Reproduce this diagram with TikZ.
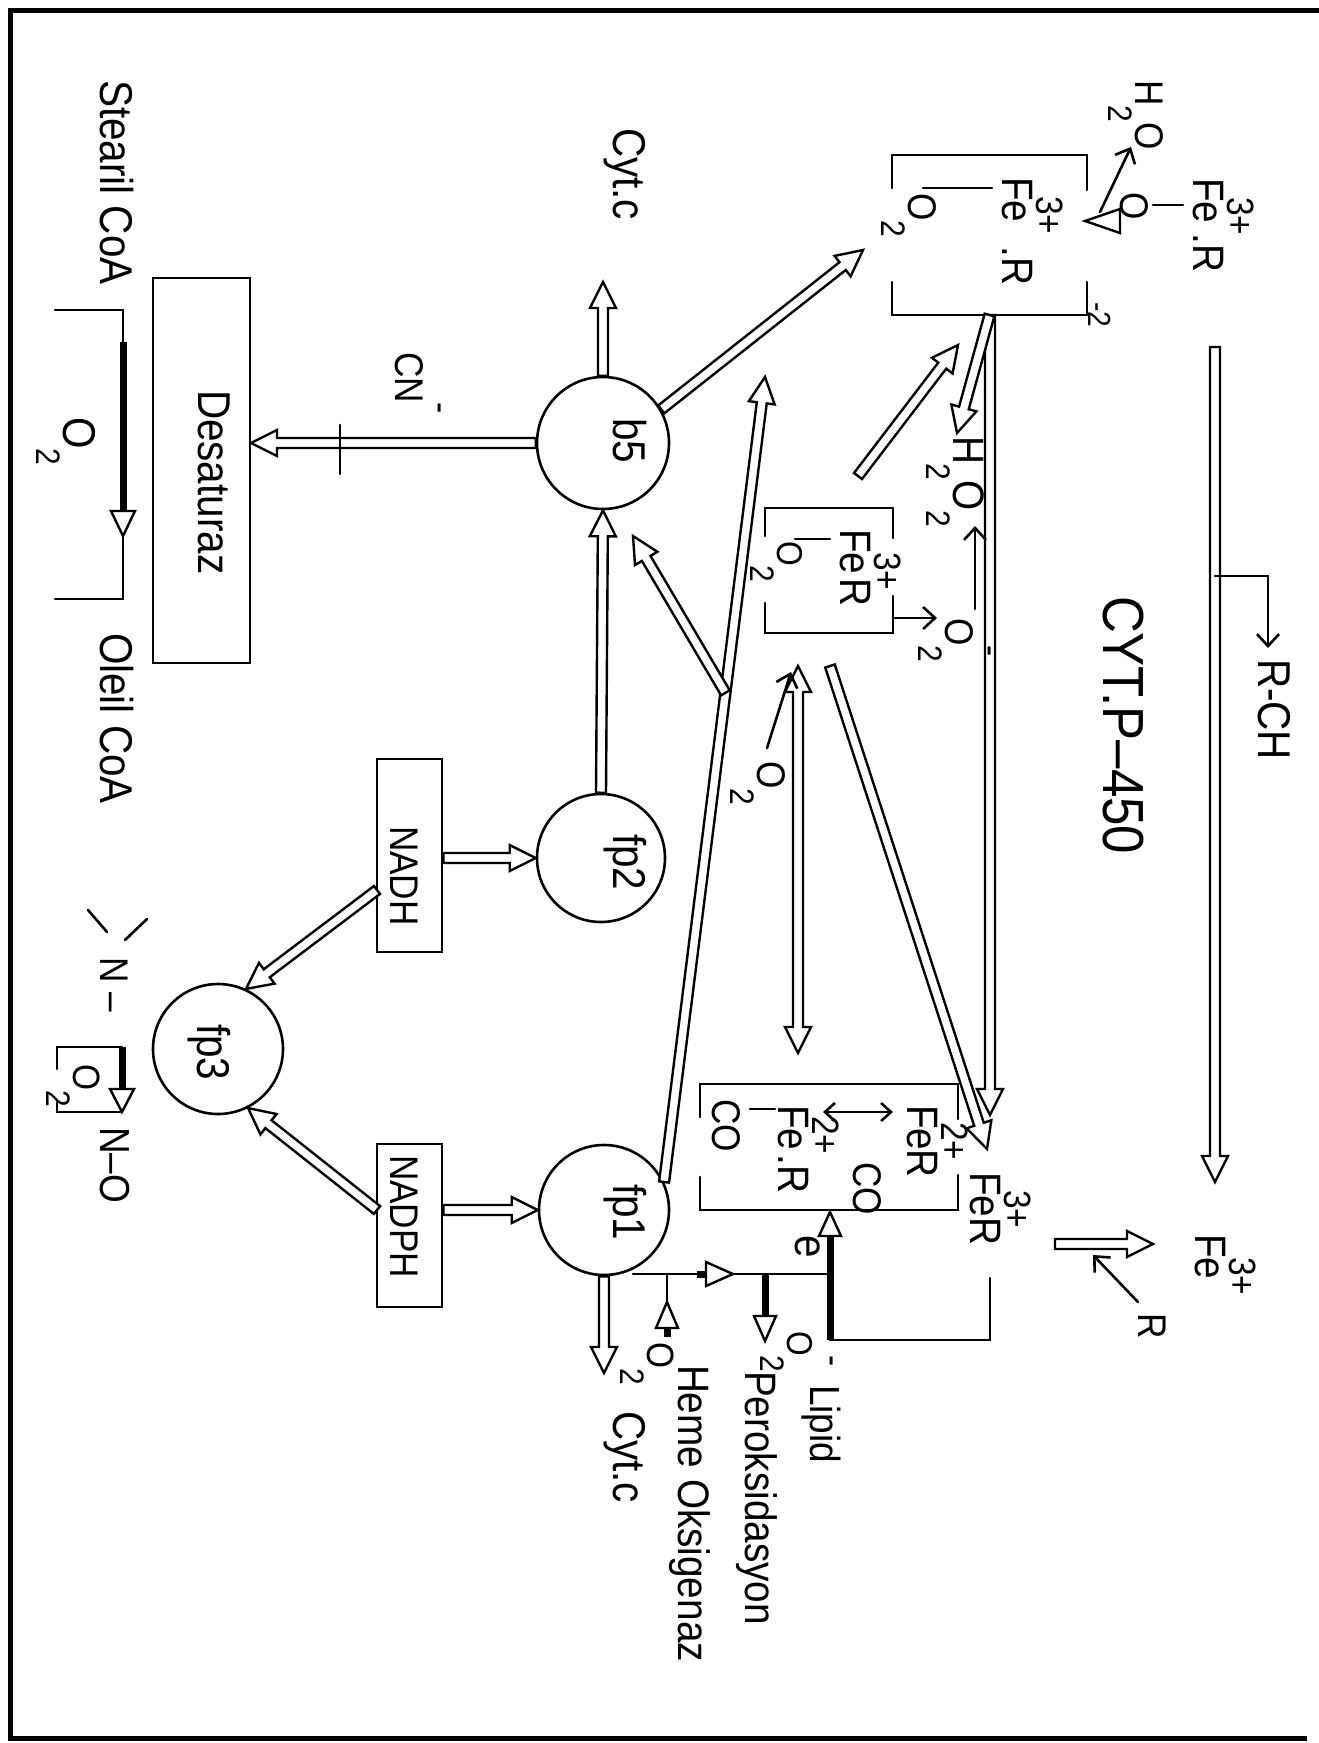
\documentclass[tikz,border=0pt]{standalone}
\usepackage{fontspec}
\setmainfont{Liberation Sans}[FakeStretch=0.88]
\usetikzlibrary{calc,arrows.meta}
\newcommand\fsz[1]{\fontsize{#1}{#1}\selectfont}
\newcommand\upx[1]{\raisebox{34pt}{\fsz{38}#1}}
\newcommand\dnx[1]{\raisebox{-27pt}{\fsz{34}#1}}
\newcommand\harrow[2]{%
  \path ($(#2)!26pt!(#1)$) coordinate (hc);
  \draw[harr] ($(#1)!5pt!90:(#2)$) -- ($(hc)!5pt!90:(#2)$) -- ($(hc)!13pt!90:(#2)$) -- (#2) -- ($(hc)!13pt!-90:(#2)$) -- ($(hc)!5pt!-90:(#2)$) -- ($(#1)!5pt!-90:(#2)$) -- cycle;}
\newcommand\hdarrow[2]{%
  \path ($(#2)!26pt!(#1)$) coordinate (hc) ($(#1)!26pt!(#2)$) coordinate (hd);
  \draw[harr] (#1) -- ($(hd)!13pt!90:(#2)$) -- ($(hd)!5pt!90:(#2)$) -- ($(hc)!5pt!90:(#2)$) -- ($(hc)!13pt!90:(#2)$) -- (#2) -- ($(hc)!13pt!-90:(#2)$) -- ($(hc)!5pt!-90:(#2)$) -- ($(hd)!5pt!-90:(#2)$) -- ($(hd)!13pt!-90:(#2)$) -- cycle;}
\newcommand\htri[3]{\draw[harr] (#1) -- ($(#2)!#3!90:(#1)$) -- ($(#2)!#3!-90:(#1)$) -- cycle;}
\begin{document}
\begin{tikzpicture}[x=1pt,y=-1pt,line width=2.6pt,line cap=round,
  harr/.style={line width=2.4pt,fill=white,line join=miter},
  circ/.style={circle,draw,inner sep=0pt},
  box/.style={draw,inner sep=0pt},
  ghost/.style={inner sep=0pt,outer sep=0pt},
  lbl/.style={rotate=-90,anchor=base west,inner sep=0pt,outer sep=0pt,font=\fsz{46}},
  barb/.style={-{Straight Barb[length=12pt,width=22pt]}},
  dbarb/.style={{Straight Barb[length=10pt,width=18pt]}-{Straight Barb[length=10pt,width=18pt]}},
  thk/.style={line width=7pt,line cap=butt}]
\useasboundingbox (0,0) rectangle (1319,1743);
% frame
\draw[line width=5pt,line cap=butt] (1319,10) -- (10,10) -- (10,1738) -- (1307,1738);

% main nodes
\node[circ,minimum size=132pt] (b5) at (603,443) {};
\node[circ,minimum size=128pt] (fp2) at (601,858) {};
\node[circ,minimum size=130pt] (fp1) at (604,1210) {};
\node[circ,minimum size=130pt] (fp3) at (218,1049) {};
\node[box,minimum width=97pt,minimum height=385pt] (desat) at (201.5,470.5) {};
\node[box,minimum width=65pt,minimum height=193pt] (nadh) at (409.5,855.5) {};
\node[box,minimum width=65pt,minimum height=163pt] (nadph) at (409.5,1225.5) {};
\node[ghost,minimum width=195pt,minimum height=160pt] (ub) at (989.5,235) {};
\node[ghost,minimum width=128pt,minimum height=125pt] (mb) at (829,570.5) {};
\node[ghost,minimum width=258pt,minimum height=126pt] (lb) at (829,1147) {};

% bracket boxes
\draw ($(ub.north west)+(0,33)$) -- (ub.north west) -- (ub.north east) -- ($(ub.north east)+(0,35)$);
\draw ($(ub.south west)+(0,-33)$) -- (ub.south west) -- (ub.south east) -- ($(ub.south east)+(0,-33)$);
\draw ($(mb.north west)+(0,28)$) -- (mb.north west) -- (mb.north east) -- ($(mb.north east)+(0,30)$);
\draw ($(mb.south west)+(0,-30)$) -- (mb.south west) -- (mb.south east) -- ($(mb.south east)+(0,-37)$);
\draw ($(lb.north west)+(0,33)$) -- (lb.north west) -- (lb.north east) -- ($(lb.north east)+(0,35)$);
\draw ($(lb.south west)+(0,-33)$) -- (lb.south west) -- (lb.south east) -- ($(lb.south east)+(0,-35)$);

% coordinates
\coordinate (cyA) at (603,282);
\coordinate (dsA) at (251,443);
\coordinate (ubA) at (863,250);
\coordinate (nE) at (nadh.east |- fp2.west);
\coordinate (npE) at (nadph.east |- fp1.west);
\coordinate (nW) at (377,890);
\coordinate (npW) at (377,1210);
\coordinate (cyB) at (604,1373);
\coordinate (lgT) at (765,377);
\coordinate (brS) at ($(fp1.25)!0.6077!(lgT)$);
\coordinate (brT) at (633,536);
\coordinate (mbT) at (858,476);
\coordinate (ubB) at (958,345);
\coordinate (h2oT) at (957,433);
\coordinate (ubS2) at (990,315);
\coordinate (lbT) at (990,1115);
\coordinate (mbS) at (830,666);
\coordinate (lbD) at (987,1149);
\coordinate (dA) at (798,666);
\coordinate (dB) at (798,1053);
\coordinate (rcA) at (1215,347);
\coordinate (rcB) at (1215,1182);
\coordinate (feA) at (1055,1244);
\coordinate (feB) at (1153,1244);

% hollow arrows
\harrow{fp1.25}{lgT}
\harrow{brS}{brT}
\harrow{rcA}{rcB}
\harrow{mbS}{lbD}
\harrow{ubS2}{lbT}
\harrow{ub.south}{h2oT}
\harrow{mbT}{ubB}
\hdarrow{dA}{dB}
\harrow{b5.north}{cyA}
\harrow{b5.west}{dsA}
\harrow{b5.30}{ubA}
\harrow{fp2.north}{b5.south}
\harrow{nE}{fp2.west}
\harrow{npE}{fp1.west}
\harrow{nW}{fp3.65}
\harrow{npW}{fp3.-63}
\harrow{fp1.south}{cyB}
\harrow{feA}{feB}

% inhibitor tick (CN-)
\coordinate (tkA) at (340,425); \coordinate (tkB) at (340,474);
\draw (tkA) -- (tkB);

% Stearil -> Oleil bracket
\coordinate (sa1) at (55,310); \coordinate (sa2) at (123,310); \coordinate (sa3) at (123,342);
\coordinate (sa4) at (123,511); \coordinate (sa5) at (123,536); \coordinate (sa6) at (123,599); \coordinate (sa7) at (55,599);
\draw (sa1) -- (sa2) -- (sa3);
\draw (sa5) -- (sa6) -- (sa7);
\draw[thk] (sa3) -- (sa4);
\htri{sa5}{sa4}{12pt}

% amine bracket
\coordinate (na1) at (57,1047); \coordinate (na2) at (122,1047); \coordinate (na3) at (122,1089);
\coordinate (na4) at (122,1112); \coordinate (na5) at (57,1112);
\draw ($(na1)+(0,22)$) -- (na1) -- (na2);
\draw ($(na5)+(0,-10)$) -- (na5) -- (na4);
\draw[thk] (na2) -- (na3);
\htri{na4}{na3}{12pt}
\coordinate (sl1) at (88,910); \coordinate (sl2) at (107,932);
\coordinate (sl3) at (147,919); \coordinate (sl4) at (125,940);
\draw (sl1) -- (sl2);
\draw (sl3) -- (sl4);

% bonds
\coordinate (bu1) at (923,188); \coordinate (bu2) at (992,188);
\draw (bu1) -- (bu2);
\coordinate (bx1) at (1153,205); \coordinate (bx2) at (1183,205);
\draw (bx1) -- (bx2);
\coordinate (bm1) at (795,539); \coordinate (bm2) at (830,539);
\draw (bm1) -- (bm2);
\coordinate (bl1) at (750,1109); \coordinate (bl2) at (775,1109);
\draw (bl1) -- (bl2);
\coordinate (dl1) at (823,1112); \coordinate (dl2) at (893,1112);
\draw[dbarb] (dl1) -- (dl2);

% thin arrows
\coordinate (oxA) at (1100,212); \coordinate (oxB) at (1131,147);
\draw[barb] (oxA) -- (oxB);
\coordinate (oxT) at (1085,221); \coordinate (oxS) at (1120,221);
\htri{oxT}{oxS}{12pt}
\coordinate (omA) at (893,618); \coordinate (omB) at (937,618);
\draw[barb] (omA) -- (omB);
\coordinate (ohA) at (975,609); \coordinate (ohB) at (975,526);
\draw[barb] (ohA) -- (ohB);
\coordinate (obA) at (767,748); \coordinate (obB) at (791,672);
\draw[barb] (obA) -- (obB);
\coordinate (rA) at (1138,1302); \coordinate (rB) at (1093,1255);
\draw[barb] (rA) -- (rB);
\coordinate (rc1) at (1215,576); \coordinate (rc2) at (1268,576); \coordinate (rc3) at (1268,648);
\draw[barb] (rc1) -- (rc2) -- (rc3);

% fp1 side reactions
\coordinate (f1) at (633,1274); \coordinate (f2) at (830,1274);
\draw (f1) -- (f2);
\coordinate (f3) at (697,1274); \coordinate (f4) at (706,1274); \coordinate (f5) at (733,1274);
\draw[thk] (f3) -- (f4);
\htri{f5}{f4}{12pt}
\coordinate (e1) at (830,1212); \coordinate (e2) at (830,1236); \coordinate (e3) at (830,1340);
\coordinate (e4) at (990,1340); \coordinate (e5) at (990,1278);
\draw[thk] (e2) -- (e3);
\draw (e3) -- (e4) -- (e5);
\htri{e1}{e2}{11pt}
\coordinate (lp1) at (765,1274); \coordinate (lp2) at (765,1316); \coordinate (lp3) at (765,1341);
\draw[thk] (lp1) -- (lp2);
\htri{lp3}{lp2}{11pt}
\coordinate (hm1) at (667,1274); \coordinate (hm2) at (667,1302); \coordinate (hm3) at (667,1328); \coordinate (hm4) at (667,1337);
\draw (hm1) -- (hm2);
\draw[thk] (hm3) -- (hm4);
\htri{hm2}{hm3}{11pt}

% labels
\node[lbl] (tStearil) at (100,80) {Stearil CoA};
\node[lbl] (tOleil) at (100,633) {Oleil CoA};
\node[lbl] (tO2a) at (63,417) {O\dnx{2}};
\node[lbl] (tDesat) at (198,390) {Desaturaz};
\node[lbl,font=\fsz{40}] (tCN) at (395,352) {CN\upx{-}};
\node[lbl] (tCyt1) at (613,128) {Cyt.c};
\node[lbl] (tb5) at (613,418) {b5};
\node[lbl] (tfp2) at (613,834) {fp2};
\node[lbl] (tfp1) at (613,1184) {fp1};
\node[lbl] (tfp3) at (197,1024) {fp3};
\node[lbl,font=\fsz{40}] (tNADH) at (390,826) {NADH};
\node[lbl,font=\fsz{40}] (tNADPH) at (390,1155) {NADPH};
\node[lbl,font=\fsz{58}] (tCYT) at (1103,596) {CYT.P--450};
\node[lbl] (tRCH) at (1258,659) {R-CH};
\node[lbl,font=\fsz{44}] (tFeU) at (1002,177) {Fe\kern-26pt\upx{3+}\kern12pt.R};
\node[lbl,font=\fsz{40}] (tO2U) at (908,193) {O\dnx{2}};
\node[lbl,font=\fsz{32}] (tm2) at (1088,302) {-2};
\node[lbl,font=\fsz{40}] (tOx) at (1120,192) {O};
\node[lbl,font=\fsz{44}] (tFeX) at (1193,178) {Fe\kern-26pt\upx{3+}\kern-2pt.R};
\node[lbl,font=\fsz{40}] (tH2O) at (1135,80) {H\dnx{2}O};
\node[lbl,font=\fsz{44}] (tH2O2) at (953,436) {H\dnx{2}O\dnx{2}};
\node[lbl,font=\fsz{40}] (tO2m) at (945,618) {O\rlap{\upx{-}}\dnx{2}};
\node[lbl,font=\fsz{44}] (tFeM) at (840,529) {Fe\kern-22pt\upx{3+}\kern-12pt R};
\node[lbl,font=\fsz{36}] (tO2M) at (777,541) {O\dnx{2}};
\node[lbl,font=\fsz{40}] (tO2b) at (757,761) {O\dnx{2}};
\node[lbl,font=\fsz{40}] (tCOa) at (712,1099) {CO};
\node[lbl,font=\fsz{44}] (tFeLa) at (778,1105) {Fe\kern-34pt\upx{2+}.R};
\node[lbl,font=\fsz{44}] (tFeLb) at (907,1105) {Fe\kern-28pt\upx{2+}\kern-11pt R};
\node[lbl,font=\fsz{40}] (tCOb) at (853,1162) {CO};
\node[lbl,font=\fsz{44}] (tFeR) at (970,1172) {Fe\kern-27pt\upx{3+}\kern-11pt R};
\node[lbl,font=\fsz{40}] (tR) at (1138,1313) {R};
\node[lbl,font=\fsz{44}] (tFe3) at (1195,1234) {Fe\kern-22pt\upx{3+}};
\node[lbl] (te) at (795,1235) {e};
\node[lbl,font=\fsz{36}] (tO2L) at (787,1331) {O\rlap{\upx{-}}\dnx{2}};
\node[lbl,font=\fsz{42}] (tLipid) at (810,1385) {Lipid};
\node[lbl,font=\fsz{44}] (tPer) at (745,1371) {Peroksidasyon};
\node[lbl,font=\fsz{44}] (tHeme) at (678,1365) {Heme Oksigenaz};
\node[lbl,font=\fsz{38}] (tO2H) at (647,1342) {O\dnx{2}};
\node[lbl] (tCyt2) at (613,1411) {Cyt.c};
\node[lbl,font=\fsz{40}] (tN1) at (100,957) {N\ --};
\node[lbl,font=\fsz{42}] (tNO) at (100,1127) {N--O};
\node[lbl,font=\fsz{38}] (tO2N) at (73,1064) {O\dnx{2}};
\end{tikzpicture}
\end{document}
